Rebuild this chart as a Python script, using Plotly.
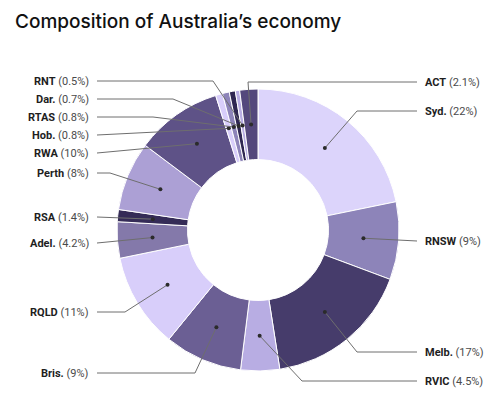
import math
import plotly.graph_objects as go

# ---- data ----
regions = ["Syd.", "RNSW", "Melb.", "RVIC", "Bris.", "RQLD", "Adel.", "RSA",
           "Perth", "RWA", "Hob.", "RTAS", "Dar.", "RNT", "ACT"]
shares = [22, 9, 17, 4.5, 9, 11, 4.2, 1.4, 8, 10, 0.8, 0.8, 0.7, 0.5, 2.1]
share_labels = ["22%", "9%", "17%", "4.5%", "9%", "11%", "4.2%", "1.4%",
                "8%", "10%", "0.8%", "0.8%", "0.7%", "0.5%", "2.1%"]

# ---- style / layout ----
colors = ["#dcd4fb", "#8d84b9", "#463c6b", "#b8ade3", "#6b5f94", "#d8cefa",
          "#8479aa", "#352c57", "#aca0d5", "#5e5287", "#d8cefa", "#8d84b9",
          "#2f2752", "#b8ade3", "#54487c"]
sides = ["R", "R", "R", "R", "L", "L", "L", "L", "L", "L", "L", "L", "L", "L", "R"]
label_y = [111, 241, 352, 381, 373, 312, 243, 217, 173, 153, 135, 117, 99, 81, 82]
elbow_x = [357, None, 357, 302, 195, 125, None, None, 110, None, None, 153, 173, 213, 248]

W, H = 496, 394
CX, CY, R = 258, 230, 141
HOLE = 0.5
RIGHT_LINE_END, RIGHT_TEXT_X = 417, 423
LEFT_LINE_END, LEFT_TEXT_X = 97, 91


def px(x):
    return x / W


def py(y):
    return 1 - y / H


fig = go.Figure(go.Pie(
    labels=regions, values=shares, sort=False, direction="clockwise",
    rotation=0, hole=HOLE, textinfo="none", hoverinfo="label+percent",
    marker=dict(colors=colors, line=dict(color="white", width=1)),
    domain=dict(x=[px(CX - R), px(CX + R)], y=[py(CY + R), py(CY - R)]),
    showlegend=False,
))

total = sum(shares)
rm = R * (1 + HOLE) / 2
shapes = []
annotations = []
cum = 0
for name, v, lab, side, ly, ex in zip(regions, shares, share_labels, sides, label_y, elbow_x):
    a = math.radians((cum + v / 2) / total * 360)
    cum += v
    dx = CX + rm * math.sin(a)
    dy = CY - rm * math.cos(a)
    end_x = RIGHT_LINE_END if side == "R" else LEFT_LINE_END
    if ex is None:
        path = f"M {px(dx)},{py(dy)} L {px(end_x)},{py(ly)}"
    else:
        path = f"M {px(dx)},{py(dy)} L {px(ex)},{py(ly)} L {px(end_x)},{py(ly)}"
    shapes.append(dict(type="path", path=path, xref="paper", yref="paper",
                       line=dict(color="#6e6e6e", width=1)))
    shapes.append(dict(type="circle", xref="paper", yref="paper",
                       x0=px(dx - 2), x1=px(dx + 2), y0=py(dy + 2), y1=py(dy - 2),
                       fillcolor="#2b2b2b", line=dict(width=0)))
    annotations.append(dict(
        text=f"<b>{name}</b> <span style='color:#4a4a4a'>({lab})</span>",
        x=px(RIGHT_TEXT_X if side == "R" else LEFT_TEXT_X), y=py(ly),
        xref="paper", yref="paper",
        xanchor="left" if side == "R" else "right", yanchor="middle",
        showarrow=False, font=dict(family="Roboto", size=11, color="#1e1e1e")))

annotations.append(dict(
    text="Composition of Australia\u2019s economy", x=px(13), y=py(8),
    xref="paper", yref="paper", xanchor="left", yanchor="top", showarrow=False,
    font=dict(family="Inter", size=19, color="#111111", weight=500)))

fig.update_layout(
    width=W, height=H, autosize=False,
    margin=dict(l=0, r=0, t=0, b=0),
    paper_bgcolor="white", plot_bgcolor="white",
    shapes=shapes, annotations=annotations,
)

fig.write_html("out.html", config={"displayModeBar": False},
               post_script="document.body.style.margin='0';document.body.style.overflow='hidden';")
